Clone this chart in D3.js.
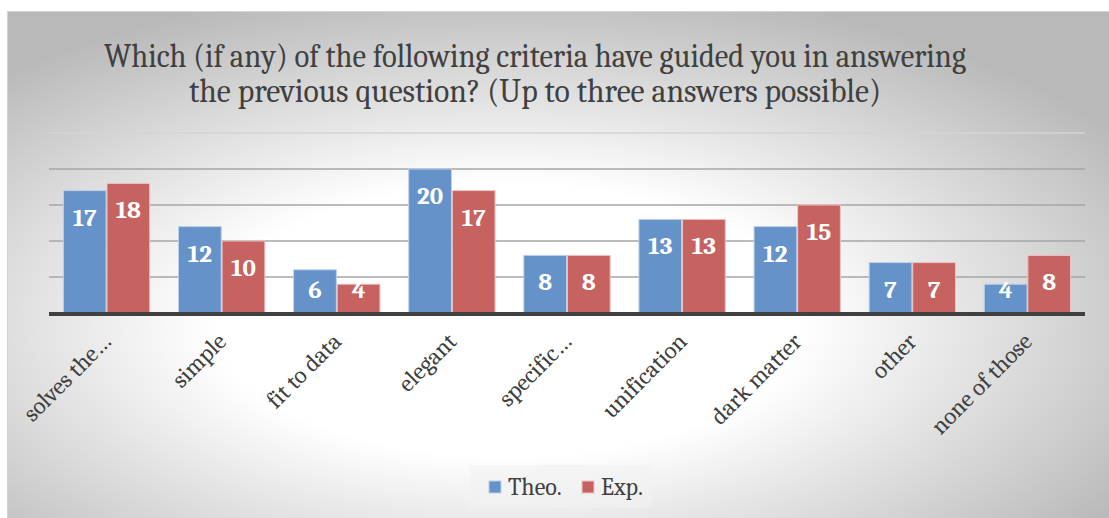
<!DOCTYPE html>
<html>
<head>
<meta charset="utf-8">
<script src="https://cdn.jsdelivr.net/npm/d3@7"></script>
<style>
  html, body { margin: 0; padding: 0; background: #fff; }
  svg { display: block; }
</style>
</head>
<body>
<div id="chart"></div>
<script>
// categories and values
const categories = ["solves the…", "simple", "fit to data", "elegant", "specific…",
                    "unification", "dark matter", "other", "none of those"];
const theoValues = [17, 12, 6, 20, 8, 13, 12, 7, 4];
const expValues  = [18, 10, 4, 17, 8, 13, 15, 7, 8];
const seriesNames = ["Theo.", "Exp."];
const gridTicks = [5, 10, 15, 20, 25];
const titleLines = ["Which (if any) of the following criteria have guided you in answering",
                    "the previous question? (Up to three answers possible)"];

const width = 1109, height = 518;
const colors = { "Theo.": "#6592c9", "Exp.": "#c6625f" };
const strokes = { "Theo.": "#bcd0ea", "Exp.": "#ecc4c3" };
const serif = "Cambria, 'Liberation Serif', serif";

const svg = d3.select("#chart").append("svg")
    .attr("width", width)
    .attr("height", height);

const defs = svg.append("defs");
const bg = defs.append("radialGradient")
    .attr("id", "bgGrad")
    .attr("cx", 0.45).attr("cy", 0.6).attr("r", 0.66);
bg.append("stop").attr("offset", 0).attr("stop-color", "#ffffff");
bg.append("stop").attr("offset", 0.4).attr("stop-color", "#ffffff");
bg.append("stop").attr("offset", 1).attr("stop-color", "#b9b9b9");

// chart area background
svg.append("rect")
    .attr("x", 7.5).attr("y", 11.5)
    .attr("width", 1110).attr("height", 515)
    .attr("fill", "url(#bgGrad)")
    .attr("stroke", "#d4d4d4");

// title
svg.append("g").selectAll("text")
    .data(titleLines).join("text")
    .attr("x", 535)
    .attr("y", (d, i) => 67 + i * 35)
    .attr("text-anchor", "middle")
    .attr("font-family", serif)
    .attr("font-size", 33)
    .attr("fill", "#404040")
    .attr("textLength", (d, i) => i === 0 ? 862 : 692)
    .attr("lengthAdjust", "spacingAndGlyphs")
    .text(d => d);

const plot = { left: 49, right: 1085, top: 133, bottom: 313 };

const x0 = d3.scaleBand()
    .domain(categories)
    .range([plot.left, plot.right])
    .padding(0);

const x1 = d3.scaleBand()
    .domain(seriesNames)
    .range([x0.bandwidth() * 0.125, x0.bandwidth() * 0.875])
    .paddingInner(0.02);

const y = d3.scaleLinear()
    .domain([0, 25])
    .range([plot.bottom, plot.top]);

// gridlines
svg.append("g").selectAll("line")
    .data(gridTicks).join("line")
    .attr("x1", plot.left).attr("x2", plot.right)
    .attr("y1", d => y(d)).attr("y2", d => y(d))
    .attr("stroke", d => d === 25 ? "#d4d4d4" : "#a6a6a6")
    .attr("stroke-width", 1.5);

const rows = categories.map((c, i) => ({
    category: c,
    values: [
        { series: "Theo.", value: theoValues[i] },
        { series: "Exp.", value: expValues[i] }
    ]
}));

const groups = svg.append("g").selectAll("g")
    .data(rows).join("g")
    .attr("transform", d => `translate(${x0(d.category)},0)`);

groups.selectAll("rect")
    .data(d => d.values).join("rect")
    .attr("x", d => x1(d.series))
    .attr("y", d => y(d.value))
    .attr("width", x1.bandwidth())
    .attr("height", d => y(0) - y(d.value))
    .attr("fill", d => colors[d.series])
    .attr("stroke", d => strokes[d.series])
    .attr("stroke-width", 1);

groups.selectAll("text")
    .data(d => d.values).join("text")
    .attr("x", d => x1(d.series) + x1.bandwidth() / 2)
    .attr("y", d => Math.min(y(d.value) + 35, y(0) - 15))
    .attr("text-anchor", "middle")
    .attr("font-family", serif)
    .attr("font-weight", "bold")
    .attr("font-size", 25)
    .attr("fill", "#ffffff")
    .text(d => d.value);

// baseline axis
svg.append("line")
    .attr("x1", plot.left).attr("x2", plot.right)
    .attr("y1", y(0) + 1).attr("y2", y(0) + 1)
    .attr("stroke", "#404040")
    .attr("stroke-width", 4);

// category labels
svg.append("g").selectAll("text")
    .data(categories).join("text")
    .attr("transform", d => `translate(${x0(d) + x0.bandwidth() / 2 + 6},343) rotate(-45)`)
    .attr("text-anchor", "end")
    .attr("font-family", serif)
    .attr("font-size", 24)
    .attr("fill", "#404040")
    .text(d => d);

// legend
const legend = svg.append("g");
legend.append("rect")
    .attr("x", 470).attr("y", 465)
    .attr("width", 182).attr("height", 43)
    .attr("fill", "#f2f2f2").attr("fill-opacity", 0.6);

const legendX = d3.scalePoint().domain(seriesNames).range([489, 582]);

const item = legend.selectAll("g")
    .data(seriesNames).join("g")
    .attr("transform", d => `translate(${legendX(d)},481)`);
item.append("rect")
    .attr("width", 12).attr("height", 12)
    .attr("fill", d => colors[d])
    .attr("stroke", d => strokes[d]);
item.append("text")
    .attr("x", 19).attr("y", 14)
    .attr("font-family", serif)
    .attr("font-size", 24)
    .attr("fill", "#404040")
    .text(d => d);
</script>
</body>
</html>
